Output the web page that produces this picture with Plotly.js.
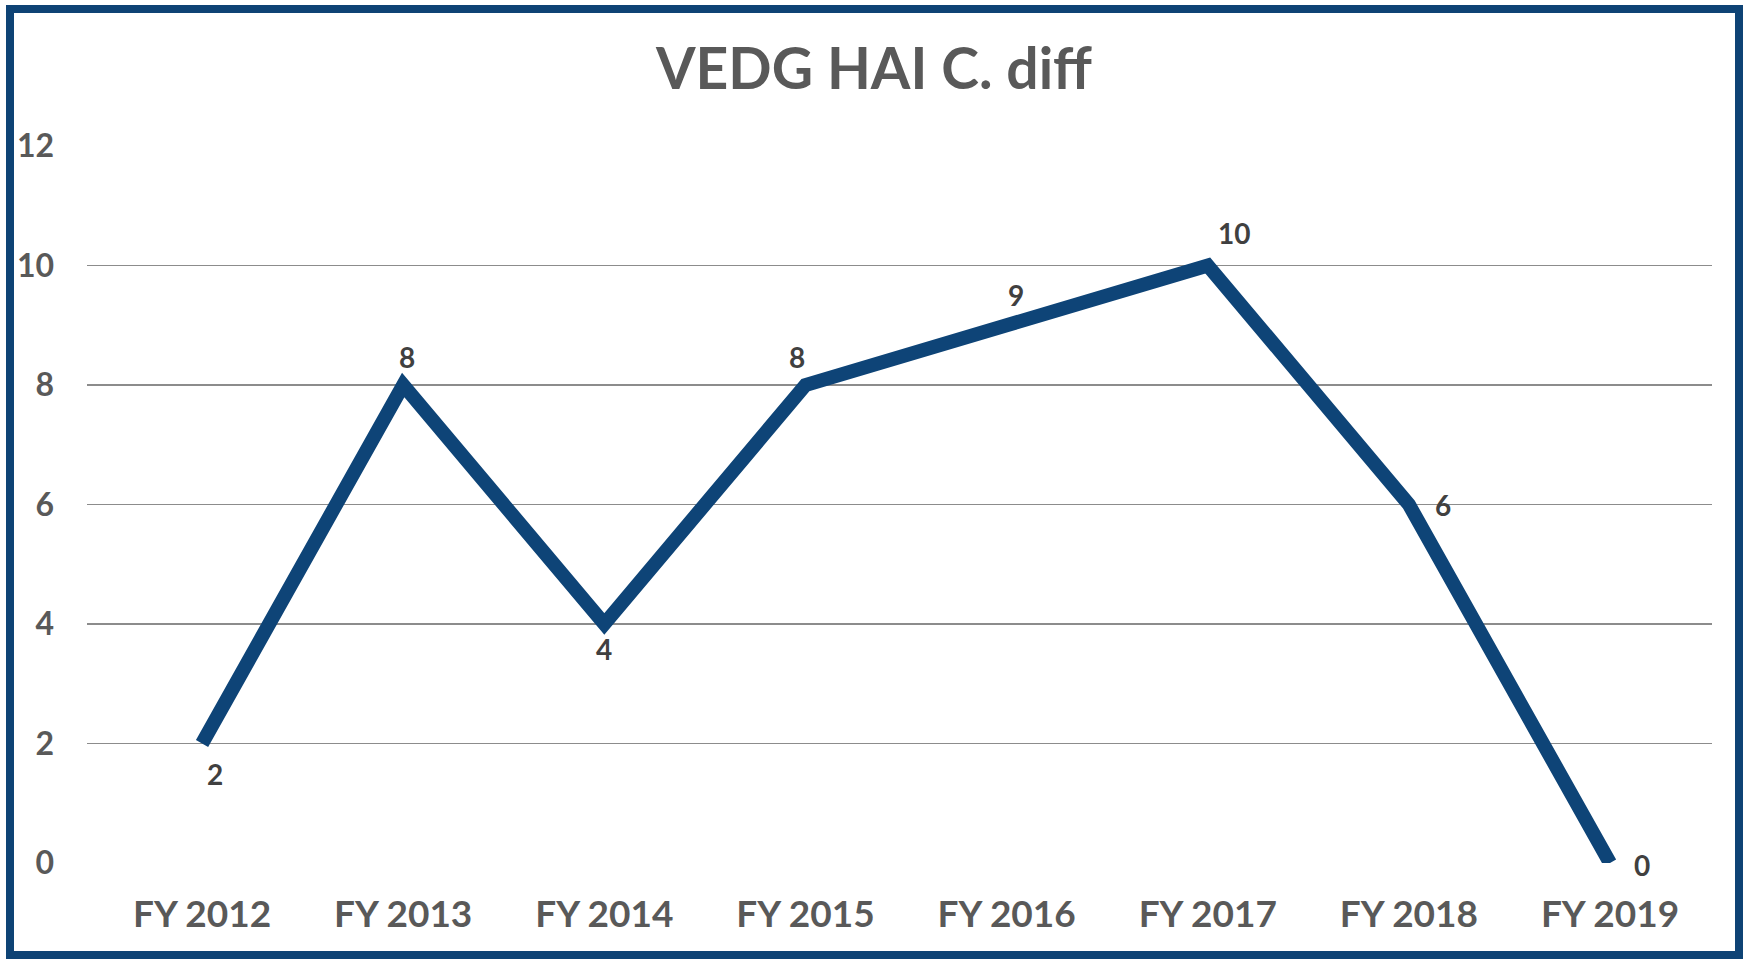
<!DOCTYPE html>
<html>
<head>
<meta charset="utf-8">
<script src="https://cdn.plot.ly/plotly-3.0.1.min.js"></script>
<style>
  html, body { margin: 0; padding: 0; background: #ffffff; }
  #chart { width: 1748px; height: 959px; }
</style>
</head>
<body>
<div id="chart"></div>
<script>
const categories = ["FY 2012", "FY 2013", "FY 2014", "FY 2015", "FY 2016", "FY 2017", "FY 2018", "FY 2019"];
const values = [2, 8, 4, 8, 9, 10, 6, 0];
const yTicks = [0, 2, 4, 6, 8, 10, 12];
const chartTitle = "VEDG HAI C. diff";

// label placement (pixel offsets from each point), mimicking the original chart
const labelShiftX = [13, 4, 0, -8, 9, 26, 0, 0];
const labelShiftY = [-30, 28, -25, 28, 30, 33, 0, -2];
const labelAnchor = ["center", "center", "center", "center", "center", "center", "left", "left"];
const labelPad = [0, 0, 0, 0, 0, 0, 24, 22];

const FONT = "Lato, 'Open Sans', sans-serif";

const trace = {
  x: categories,
  y: values,
  type: "scatter",
  mode: "lines",
  line: { color: "#0E4477", width: 14 },
  cliponaxis: false,
  hoverinfo: "x+y"
};

const annotations = categories.map((c, i) => ({
  x: c,
  y: values[i],
  xref: "x",
  yref: "y",
  text: "<b>" + values[i] + "</b>",
  showarrow: false,
  xanchor: labelAnchor[i],
  yanchor: "middle",
  xshift: labelShiftX[i] + labelPad[i],
  yshift: labelShiftY[i],
  font: { family: FONT, size: 28, color: "#404040" }
}));

const layout = {
  width: 1748,
  height: 959,
  paper_bgcolor: "#ffffff",
  plot_bgcolor: "#ffffff",
  margin: { l: 87, r: 36, t: 146, b: 96 },
  showlegend: false,
  title: {
    text: "<b>" + chartTitle + "</b>",
    font: { family: FONT, size: 57, color: "#595959" },
    x: 0.5,
    xanchor: "center",
    y: 1 - 69 / 959,
    yanchor: "middle"
  },
  xaxis: {
    type: "category",
    range: [-0.572, 7.507],
    showgrid: false,
    zeroline: false,
    showline: false,
    ticks: "",
    ticklabelstandoff: 26,
    tickfont: { family: FONT, size: 37, color: "#595959", weight: "bold" }
  },
  yaxis: {
    range: [0, 12],
    tickvals: yTicks,
    showgrid: true,
    gridcolor: "#8c8c8c",
    gridwidth: 1.5,
    zeroline: false,
    showline: false,
    ticks: "",
    ticklabelstandoff: 32,
    tickfont: { family: FONT, size: 32, color: "#595959", weight: "bold" }
  },
  annotations: annotations,
  shapes: [{
    type: "rect",
    xref: "paper",
    yref: "paper",
    x0: (10 - 87) / 1625,
    x1: (1739 - 87) / 1625,
    y0: (863 - 955) / 717,
    y1: (863 - 9) / 717,
    line: { color: "#0E4375", width: 8 },
    fillcolor: "rgba(0,0,0,0)",
    layer: "above"
  }]
};

Plotly.newPlot("chart", [trace], layout, { displayModeBar: false, staticPlot: true });
</script>
</body>
</html>
